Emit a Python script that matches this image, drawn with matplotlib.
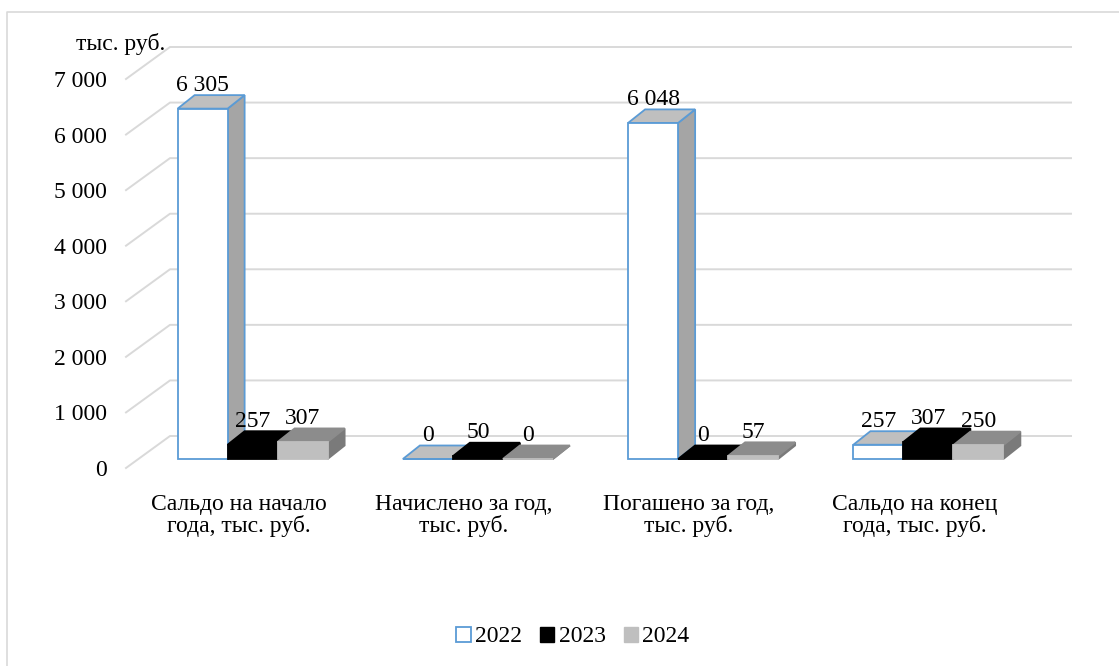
import numpy as np
import matplotlib.pyplot as plt
from matplotlib.patches import Polygon, Rectangle
from matplotlib.lines import Line2D

plt.rcParams['font.family'] = ['Liberation Serif', 'DejaVu Serif']

categories = ["Сальдо на начало\nгода, тыс. руб.",
              "Начислено за год,\nтыс. руб.",
              "Погашено за год,\nтыс. руб.",
              "Сальдо на конец\nгода, тыс. руб."]
years = ["2022", "2023", "2024"]
v2022 = [6305, 0, 6048, 257]
v2023 = [257, 50, 0, 307]
v2024 = [307, 0, 57, 250]
yticks = [0, 1000, 2000, 3000, 4000, 5000, 6000, 7000]
ytick_labels = ["0", "1 000", "2 000", "3 000", "4 000", "5 000", "6 000", "7 000"]
unit_label = "тыс. руб."

series = [v2022, v2023, v2024]
# front, top, side colours per series
face_cols = [("white", "#bfbfbf", "#a5a5a5"),
             ("black", "black", "black"),
             ("#bfbfbf", "#8c8c8c", "#7a7a7a")]
edge_cols = ["#5b9bd5", None, None]
FS = 17

W, H = 1119, 666
fig = plt.figure(figsize=(W / 100, H / 100), dpi=100)

# axes = the front plane of the bars
left, right, bottom, top = 140, 1041, 459, 70
ax = fig.add_axes([left / W, 1 - bottom / H, (right - left) / W, (bottom - top) / H])
ax.set_xlim(-0.5, len(categories) - 0.5)
ax.set_ylim(0, 7000)
ax.axis('off')

# data units per pixel
sx = (len(categories)) / (right - left)
sy = 7000 / (bottom - top)

# depth offsets (pixels -> data)
dx, dy = 17 * sx, 13.5 * sy        # bar depth
bx, by = 30 * sx, 23 * sy          # back wall
fx, fy = -14 * sx, -9 * sy         # front edge of floor

grid_c = "#d9d9d9"
x0, x1 = -0.5, len(categories) - 0.5
for v, lab in zip(yticks, ytick_labels):
    ax.plot([x0 + fx, x0 + bx, x1 + bx], [v + fy, v + by, v + by],
            color=grid_c, lw=1.4, clip_on=False, zorder=1)
    ax.text(x0 + fx - 19 * sx, v + fy, lab, ha='right', va='center_baseline',
            fontsize=FS)

ax.text(x0 - 19 * sx, 417 * sy, unit_label, ha='center', va='center_baseline', fontsize=FS)

bw = 50 / 225.25
for i in range(len(categories)):
    for j, vals in enumerate(series):
        h = vals[i]
        xa = i - 1.5 * bw + j * bw
        xb = xa + bw
        fc, tc, sc = face_cols[j]
        ec = edge_cols[j]
        kw = dict(lw=1.3, clip_on=False, zorder=3 + i * 3 + j, joinstyle='miter')
        side = Polygon([(xb, 0), (xb + dx, dy), (xb + dx, h + dy), (xb, h)],
                       facecolor=sc, edgecolor=ec if ec else sc, **kw)
        topf = Polygon([(xa, h), (xb, h), (xb + dx, h + dy), (xa + dx, h + dy)],
                       facecolor=tc, edgecolor=ec if ec else tc, **kw)
        front = Rectangle((xa, 0), bw, h, facecolor=fc,
                          edgecolor=ec if ec else fc, **kw)
        ax.add_patch(side)
        ax.add_patch(topf)
        ax.add_patch(front)
        ax.text((xa + xb) / 2, h + 26 * sy, f"{h:,}".replace(",", " "),
                ha='center', va='center_baseline', fontsize=FS, zorder=30)
    ax.text(i + fx, -35 * sy, categories[i], ha='center', va='top',
            fontsize=FS, linespacing=0.98)

handles = [Rectangle((0, 0), 1, 1, facecolor="white", edgecolor="#5b9bd5", lw=1.3),
           Rectangle((0, 0), 1, 1, facecolor="black", edgecolor="black"),
           Rectangle((0, 0), 1, 1, facecolor="#bfbfbf", edgecolor="#bfbfbf")]
fig.legend(handles, years, loc='center', bbox_to_anchor=(573 / W, 1 - 637 / H),
           ncol=3, frameon=False, fontsize=FS, handlelength=0.6, handleheight=0.6,
           handletextpad=0.2, columnspacing=0.75)

# chart border
fig.add_artist(Line2D([7 / W, 7 / W, 1], [0, 1 - 12 / H, 1 - 12 / H],
                      color=grid_c, lw=1.2, transform=fig.transFigure))

fig.savefig("out.png", dpi=100)
